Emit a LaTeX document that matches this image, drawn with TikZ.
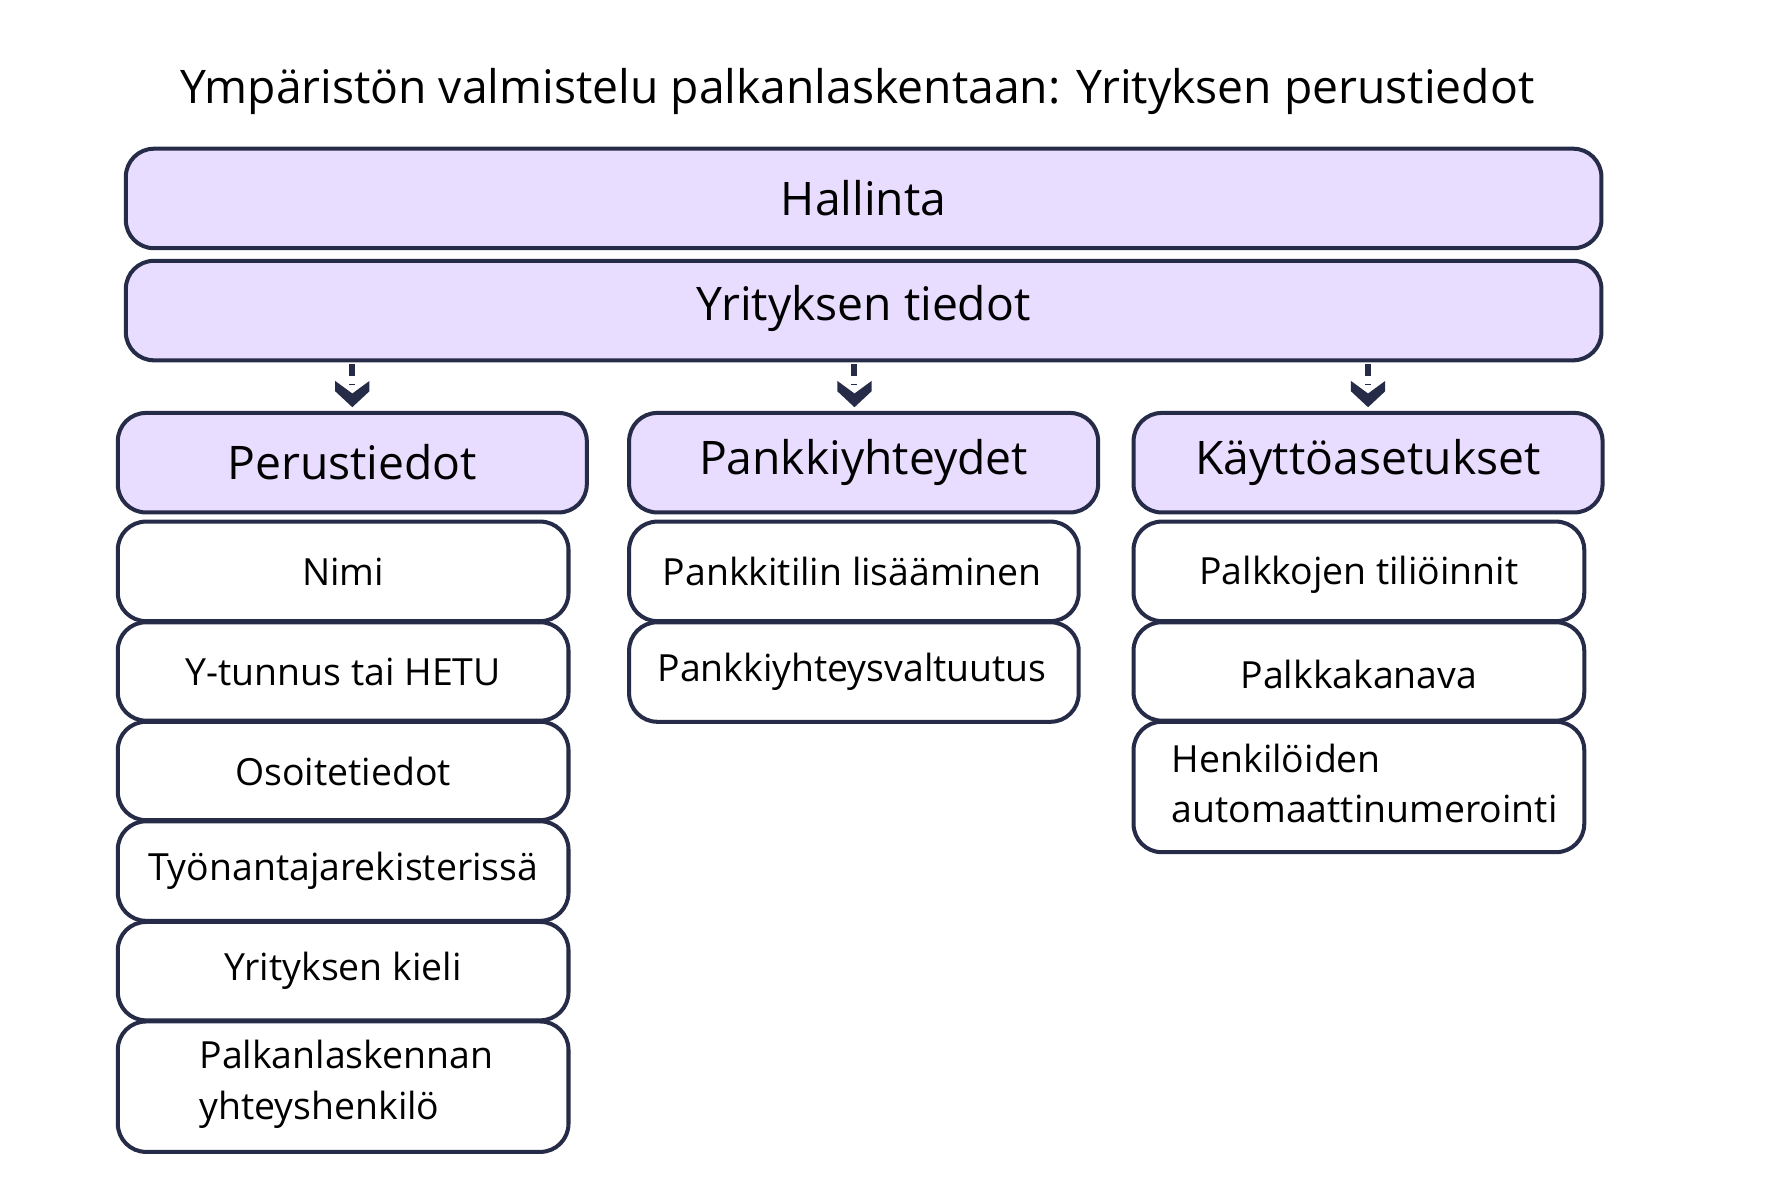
\documentclass[tikz,border=0pt]{standalone}
\usepackage{fontspec}
\setmainfont{Open Sans}
\definecolor{edge}{HTML}{262B48}
\definecolor{lav}{HTML}{E8DCFF}
\begin{document}
\begin{tikzpicture}[x=0.01cm,y=-0.01cm,
  hdr/.style={draw=edge,line width=1pt,rounded corners=7pt,fill=lav},
  itm/.style={draw=edge,line width=1pt,rounded corners=7pt,fill=white},
  htxt/.style={font=\fontsize{11.5}{14}\selectfont,text=black},
  itxt/.style={font=\fontsize{9.3}{12.5}\selectfont,text=black,align=left}]
\useasboundingbox (0,0) rectangle (1550,1033);
\node[font=\fontsize{11.5}{14}\selectfont,anchor=west] (title) at (145,80) {Ympäristön valmistelu palkanlaskentaan: Yrityksen perustiedot};
\draw[hdr] (110,130) rectangle (1400,217);
\node[htxt] (hal) at (755,173) {Hallinta};
\draw[hdr] (110,228) rectangle (1400,315);
\node[htxt] (yt) at (755,270) {Yrityksen tiedot};
\foreach \x/\t/\n in {103/Perustiedot/p,550/Pankkiyhteydet/k,991/Käyttöasetukset/a}{
  \draw[hdr] (\x,361) rectangle (\x+410,448);
  \node[htxt] (\n) at (\x+205,404) {\t};
}
\foreach \x/\n in {308/q1,747/q2,1196/q3}{
  \draw[edge,line width=1.5pt,dash pattern=on 3pt off 2pt] (\x,318) -- (\x,336);
  \fill[edge] (\x-15,333) -- (\x,344) -- (\x+15,333) -- (\x+15,342) -- (\x,356) -- (\x-15,342) -- cycle;
}
% left column
\foreach \a/\b/\t [count=\i] in {456/543/Nimi,544/630/Y-tunnus tai HETU,631/717/Osoitetiedot,718/805/Työnantajarekisterissä,806/892/Yrityksen kieli}{
  \draw[itm] (103,\a) rectangle (497,\b);
  \node[itxt] (l\i) at (300,{(\a+\b)/2}) {\t};
}
\draw[itm] (103,893) rectangle (497,1007);
\node[itxt,anchor=west] (l6) at (162,948) {Palkanlaskennan\\yhteyshenkilö};
% middle
\foreach \a/\b/\t [count=\i] in {456/543/Pankkitilin lisääminen,544/631/Pankkiyhteysvaltuutus}{
  \draw[itm] (550,\a) rectangle (943,\b);
  \node[itxt] (m\i) at (745,{(\a+\b)/2}) {\t};
}
% right
\foreach \a/\b/\t [count=\i] in {456/543/Palkkojen tiliöinnit,544/630/Palkkakanava}{
  \draw[itm] (991,\a) rectangle (1385,\b);
  \node[itxt] (r\i) at (1188,{(\a+\b)/2+3}) {\t};
}
\draw[itm] (991,631) rectangle (1385,745);
\node[itxt,anchor=west] (r3) at (1012,685) {Henkilöiden\\automaattinumerointi};
\end{tikzpicture}
\end{document}
